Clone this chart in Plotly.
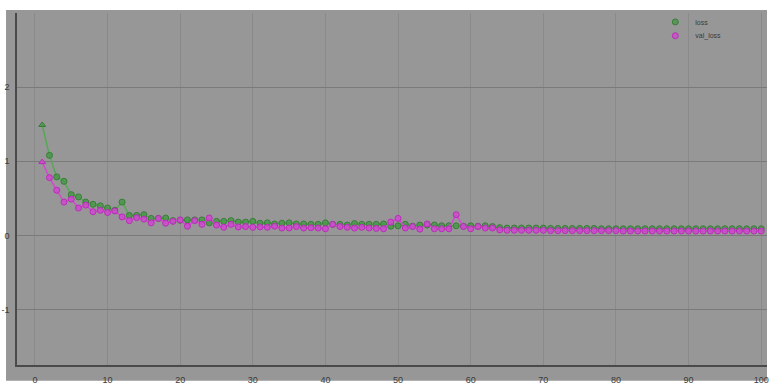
import plotly.graph_objects as go

epochs = list(range(1, 101))

loss = [
    1.49, 1.08, 0.79, 0.73, 0.55, 0.52, 0.45, 0.42, 0.40, 0.37,
    0.34, 0.45, 0.27, 0.27, 0.28, 0.23, 0.23, 0.235, 0.20, 0.205,
    0.21, 0.21, 0.21, 0.17, 0.19, 0.19, 0.20, 0.18, 0.18, 0.19,
    0.165, 0.17, 0.155, 0.165, 0.17, 0.155, 0.155, 0.15, 0.15, 0.17,
    0.15, 0.15, 0.14, 0.16, 0.15, 0.15, 0.15, 0.155, 0.125, 0.13,
    0.15, 0.125, 0.14, 0.14, 0.14, 0.13, 0.13, 0.13, 0.125, 0.13,
    0.125, 0.13, 0.12, 0.105, 0.10, 0.10, 0.10, 0.10, 0.10, 0.10,
    0.095, 0.095, 0.095, 0.095, 0.095, 0.095, 0.095, 0.09, 0.09, 0.09,
    0.09, 0.09, 0.09, 0.09, 0.09, 0.09, 0.09, 0.09, 0.09, 0.09,
    0.09, 0.09, 0.09, 0.09, 0.09, 0.09, 0.09, 0.09, 0.09, 0.09,
]

val_loss = [
    0.99, 0.78, 0.61, 0.45, 0.49, 0.37, 0.41, 0.32, 0.34, 0.31,
    0.33, 0.25, 0.20, 0.24, 0.22, 0.17, 0.23, 0.165, 0.19, 0.21,
    0.125, 0.20, 0.15, 0.235, 0.14, 0.11, 0.15, 0.115, 0.12, 0.11,
    0.115, 0.11, 0.125, 0.10, 0.10, 0.12, 0.10, 0.105, 0.10, 0.09,
    0.15, 0.12, 0.11, 0.10, 0.11, 0.10, 0.095, 0.09, 0.18, 0.23,
    0.10, 0.12, 0.085, 0.155, 0.09, 0.09, 0.09, 0.28, 0.12, 0.09,
    0.12, 0.10, 0.10, 0.075, 0.07, 0.07, 0.07, 0.07, 0.07, 0.07,
    0.065, 0.065, 0.065, 0.065, 0.065, 0.065, 0.065, 0.065, 0.065, 0.065,
    0.06, 0.06, 0.06, 0.06, 0.06, 0.06, 0.06, 0.06, 0.06, 0.06,
    0.06, 0.06, 0.06, 0.06, 0.06, 0.06, 0.06, 0.06, 0.06, 0.06,
]

x_ticks = list(range(0, 101, 10))
y_ticks = [-1, 0, 1, 2]

symbols = ["triangle-up"] + ["circle"] * (len(epochs) - 1)

BG = "#979797"
FONT = "Liberation Sans Narrow, Liberation Sans, sans-serif"

series = [
    dict(name="loss", y=loss, legend="legend",
         line="rgb(86,168,86)", fill="rgba(70,150,70,0.75)", edge="rgb(55,125,55)"),
    dict(name="val_loss", y=val_loss, legend="legend2",
         line="rgb(214,70,214)", fill="rgba(205,75,205,0.8)", edge="rgb(185,45,185)"),
]

fig = go.Figure()

for s in series:
    fig.add_trace(go.Scatter(
        x=epochs, y=s["y"], name=s["name"], mode="lines+markers",
        showlegend=False,
        line=dict(color=s["line"], width=1.5),
        marker=dict(symbol=symbols, size=6, color=s["fill"],
                    line=dict(color=s["edge"], width=1)),
    ))

# legend entries: plain circle symbols, one legend box per series
for s in series:
    fig.add_trace(go.Scatter(
        x=[None], y=[None], name=s["name"], mode="markers",
        legend=s["legend"], showlegend=True,
        marker=dict(symbol="circle", size=6, color=s["fill"],
                    line=dict(color=s["edge"], width=1)),
    ))

plot_w = 769 - 17
plot_h = 369 - 13

# grey panel behind the axes, leaving a thin white strip top and left
fig.add_shape(
    type="rect", xref="paper", yref="paper",
    x0=(6 - 17) / plot_w, x1=1.0,
    y0=-(385 - 369) / plot_h, y1=1 + (13 - 10) / plot_h,
    fillcolor=BG, line=dict(width=0), layer="below",
)

legend_style = dict(
    xanchor="left", yanchor="middle",
    bgcolor="rgba(0,0,0,0)", font=dict(size=7, color="#3a3a3a"),
    itemwidth=30,
)

fig.update_layout(
    width=769, height=385,
    margin=dict(l=17, r=0, t=13, b=16),
    paper_bgcolor="white",
    plot_bgcolor=BG,
    font=dict(family=FONT, size=9, color="#3a3a3a"),
    showlegend=True,
    legend=dict(x=(657 - 17) / plot_w, y=1 - (22 - 13) / plot_h, **legend_style),
    legend2=dict(x=(657 - 17) / plot_w, y=1 - (36 - 13) / plot_h, **legend_style),
)

fig.update_xaxes(
    range=[-2.47, 100.8], tickvals=x_ticks, ticktext=[str(t) for t in x_ticks],
    showgrid=True, gridcolor="#8a8a8a", gridwidth=1,
    zeroline=False, showline=True, linecolor="#4a4a4a", linewidth=1.5,
    ticks="", ticklabelstandoff=5, ticklabeloverflow="allow",
)

fig.update_yaxes(
    range=[-1.747, 3.0], tickvals=y_ticks, ticktext=[str(t) for t in y_ticks],
    showgrid=True, gridcolor="#7a7a7a", gridwidth=1,
    zeroline=False, showline=True, linecolor="#4a4a4a", linewidth=1.5,
    ticks="", ticklabelstandoff=4,
)

fig.write_html("out.html")
